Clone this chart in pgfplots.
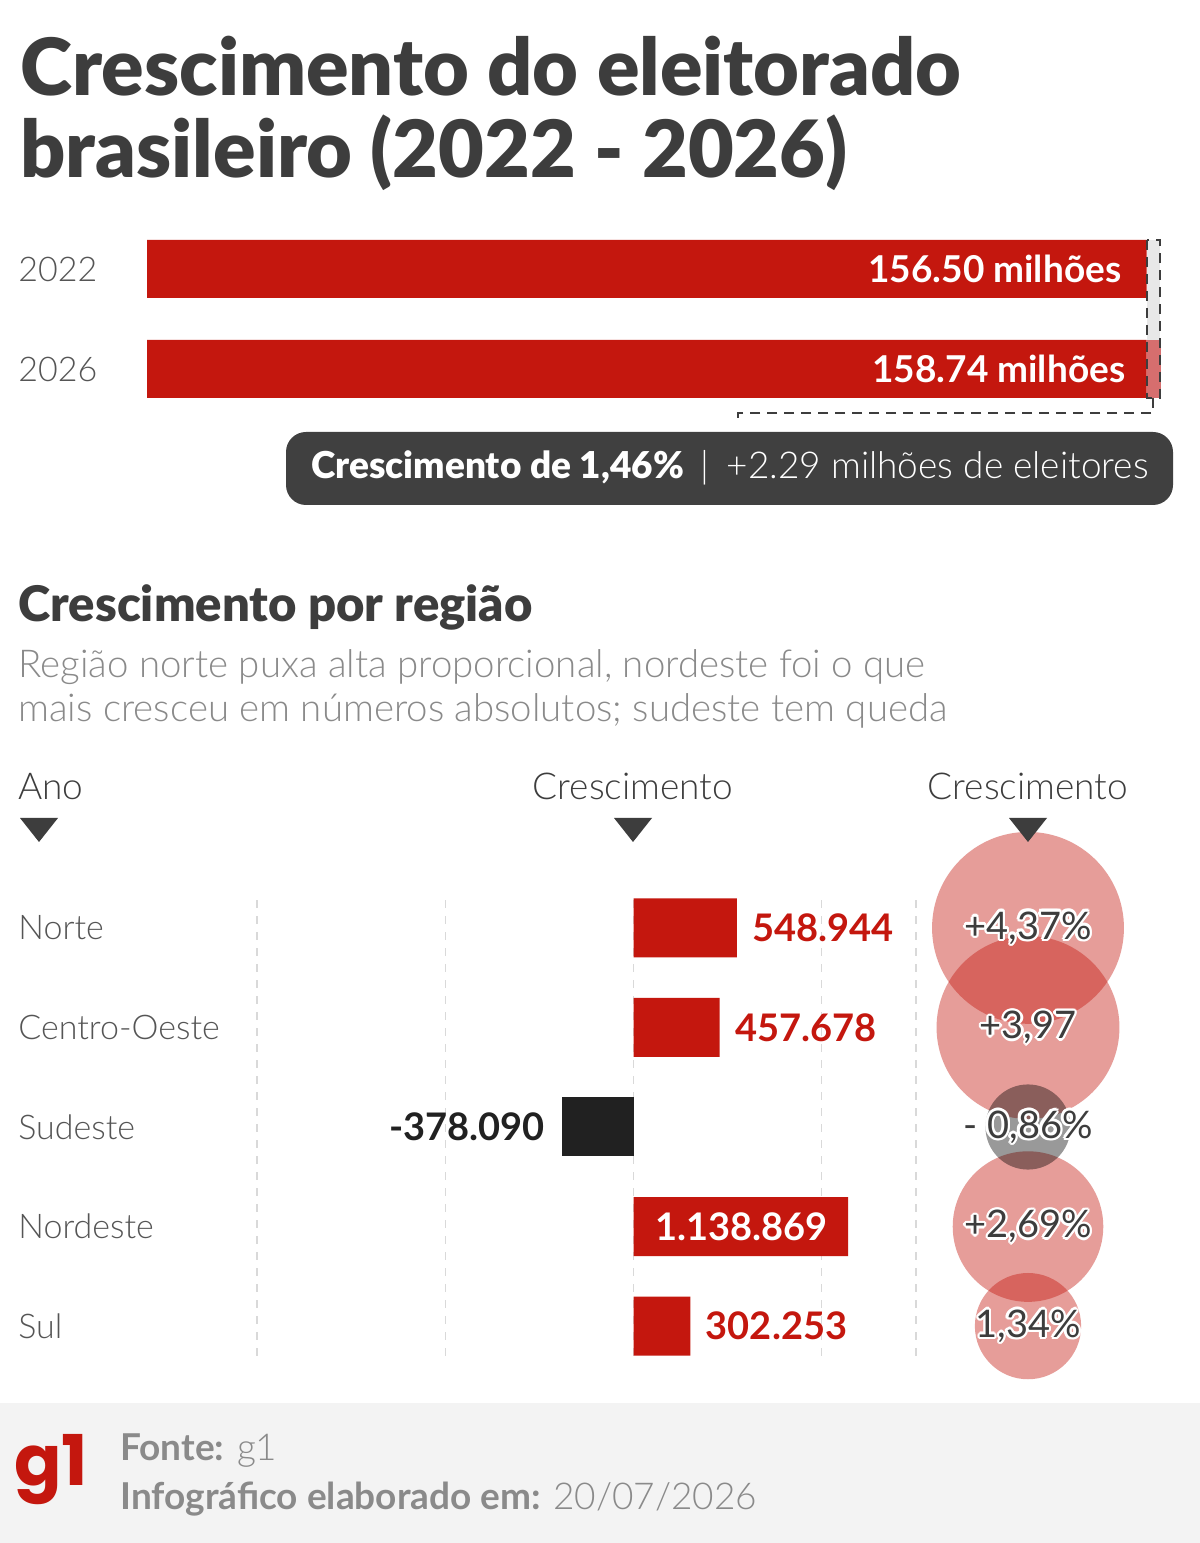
\documentclass[border=0pt]{standalone}
\usepackage{pgfplots}
\pgfplotsset{compat=1.18}
\usepackage{fontspec}
\setmainfont{Lato}
\newfontfamily\heavy{Lato Black}
\newfontfamily\light{Lato Light}
\newfontfamily\logo{Poppins}
\definecolor{gred}{RGB}{196,23,14}
\definecolor{dark}{RGB}{61,61,61}
\definecolor{txtgray}{RGB}{85,85,85}
\definecolor{subgray}{RGB}{138,138,138}
\definecolor{boxgray}{RGB}{64,64,64}
\definecolor{foot}{RGB}{243,243,243}
\definecolor{tailred}{RGB}{214,110,110}
\definecolor{graytail}{RGB}{232,232,232}
\newcommand\halo[2]{%
  \foreach \a in {0,30,...,330}{\node[inner sep=0,text=white,font=\fontsize{19}{22}\selectfont,shift={(\a:1.2pt)}] at (#1) {#2};}
  \node[inner sep=0,text=dark,font=\fontsize{19}{22}\selectfont] at (#1) {#2};}
\begin{document}
\begin{tikzpicture}[x=0.5pt,y=0.5pt]
\fill[white] (0,0) rectangle (1200,1543);
\fill[foot] (0,0) rectangle (1200,140);
% title
\node[anchor=base west,inner sep=0,text=dark,font=\heavy\fontsize{39.5}{42}\selectfont] at (20,1447) {Crescimento do eleitorado};
\node[anchor=base west,inner sep=0,text=dark,font=\heavy\fontsize{39.5}{42}\selectfont] at (20,1365) {brasileiro (2022 - 2026)};
% top bars
\fill[graytail] (1147,1303) rectangle (1160,1203);
\begin{axis}[at={(73.5pt,562pt)},anchor=south west,scale only axis,width=507pt,height=100pt,
  xmin=0,xmax=158.74,ymin=-0.5,ymax=1.5,xbar stacked,bar width=29pt,
  axis line style={draw=none},major tick length=0pt,xtick=\empty,
  ytick={0,1},yticklabels={2026,2022},
  yticklabel style={anchor=west,inner sep=0pt,xshift=-64.5pt,text=txtgray,font=\light\fontsize{17}{20}\selectfont},
  clip=false]
\addplot[fill=gred,draw=none] coordinates {(156.50,1) (156.50,0)};
\addplot[fill=tailred,draw=none] coordinates {(0,1) (2.24,0)};
\coordinate (v22) at (axis cs:156.50,1);
\coordinate (v26) at (axis cs:156.50,0);
\end{axis}
\node[anchor=east,text=white,inner sep=0,font=\bfseries\fontsize{18.5}{20}\selectfont,xshift=-12.5pt] at (v22) {156.50 milhões};
\node[anchor=east,text=white,inner sep=0,font=\bfseries\fontsize{18.5}{20}\selectfont,xshift=-10.5pt] at (v26) {158.74 milhões};
\draw[dark,line width=1pt,dash pattern=on 5pt off 3.5pt] (1147,1303) rectangle (1160,1145);
\draw[dark,line width=1pt,dash pattern=on 5pt off 3.5pt] (1153,1145) -- (1153,1130) -- (738,1130) -- (738,1123);
% dark box
\fill[boxgray,rounded corners=10pt] (286,1111) rectangle (1173,1038);
\node[anchor=center,inner sep=0,text=white,font=\fontsize{18.5}{20}\selectfont] at (730,1075) {\heavy Crescimento de 1,46\%\ \ {\light|}\ \ \light +2.29 milhões de eleitores};
% section 2
\node[anchor=base west,inner sep=0,text=dark,font=\heavy\fontsize{24.5}{27}\selectfont] at (18,921) {Crescimento por região};
\node[anchor=base west,inner sep=0,text=subgray,font=\light\fontsize{19.2}{22}\selectfont] at (18,865) {Região norte puxa alta proporcional, nordeste foi o que};
\node[anchor=base west,inner sep=0,text=subgray,font=\light\fontsize{19.2}{22}\selectfont] at (18,821) {mais cresceu em números absolutos; sudeste tem queda};
\node[anchor=base west,inner sep=0,text=dark,font=\light\fontsize{18.5}{20}\selectfont] at (18,743) {Ano};
\node[anchor=base,inner sep=0,text=dark,font=\light\fontsize{18.5}{20}\selectfont] at (633,743) {Crescimento};
\node[anchor=base,inner sep=0,text=dark,font=\light\fontsize{18.5}{20}\selectfont] at (1028,743) {Crescimento};
% bar chart
\begin{axis}[at={(128.5pt,93.5pt)},anchor=south west,scale only axis,width=329.5pt,height=229pt,
  xmin=-2000000,xmax=1500000,ymin=-0.3,ymax=4.3,scaled x ticks=false,
  axis line style={draw=none},major tick length=0pt,
  xtick={-2000000,-1000000,0,1000000,1500000},xticklabels={},
  xmajorgrids,grid style={dash pattern=on 4pt off 4pt,line width=0.6pt,black!15},
  ytick={0,1,2,3,4},yticklabels={Sul,Nordeste,Sudeste,Centro-Oeste,Norte},
  yticklabel style={anchor=west,inner sep=0pt,xshift=-119.5pt,text=txtgray,font=\light\fontsize{17}{20}\selectfont},
  clip=false]
\addplot[xbar,bar shift=0pt,bar width=29.5pt,fill=gred,draw=none] coordinates {(548944,4) (457678,3) (1138869,1) (302253,0)};
\addplot[xbar,bar shift=0pt,bar width=29.5pt,fill=black!87,draw=none] coordinates {(-378090,2)};
\node[anchor=west,inner sep=0,text=gred,font=\bfseries\fontsize{19}{22}\selectfont] at (axis cs:548944,4) [xshift=7.5pt] {548.944};
\node[anchor=west,inner sep=0,text=gred,font=\bfseries\fontsize{19}{22}\selectfont] at (axis cs:457678,3) [xshift=7.5pt] {457.678};
\node[anchor=east,inner sep=0,text=black!87,font=\bfseries\fontsize{19}{22}\selectfont] at (axis cs:-378090,2) [xshift=-8.5pt] {-378.090};
\node[anchor=east,inner sep=0,text=white,font=\bfseries\fontsize{19}{22}\selectfont] at (axis cs:1138869,1) [xshift=-10pt] {1.138.869};
\node[anchor=west,inner sep=0,text=gred,font=\bfseries\fontsize{19}{22}\selectfont] at (axis cs:302253,0) [xshift=7.5pt] {302.253};
\end{axis}
% bubbles
\begin{axis}[at={(464pt,93.5pt)},anchor=south west,scale only axis,width=100pt,height=229pt,
  xmin=0,xmax=1,ymin=-0.3,ymax=4.3,hide axis,clip=false]
\addplot[scatter,only marks,mark=*,mark options={draw opacity=0},
  visualization depends on={22.95*sqrt(abs(\thisrow{pct}))\as\rad},
  scatter/use mapped color={draw=none,draw opacity=0,fill=gred,fill opacity=0.42},
  scatter/@pre marker code/.append style={/tikz/mark size=\rad}]
  table[x=x,y=y]{
x y pct
0.5 4 4.37
0.5 3 3.97
0.5 1 2.69
0.5 0 1.34
};
\addplot[scatter,only marks,mark=*,mark options={draw opacity=0},
  visualization depends on={22.95*sqrt(abs(\thisrow{pct}))\as\rad},
  scatter/use mapped color={draw=none,draw opacity=0,fill=black,fill opacity=0.4},
  scatter/@pre marker code/.append style={/tikz/mark size=\rad}]
  table[x=x,y=y]{
x y pct
0.5 2 -0.86
};
\coordinate (b4) at (axis cs:0.5,4);
\coordinate (b3) at (axis cs:0.5,3);
\coordinate (b2) at (axis cs:0.5,2);
\coordinate (b1) at (axis cs:0.5,1);
\coordinate (b0) at (axis cs:0.5,0);
\end{axis}
\halo{b4}{+4,37\%}
\halo{b3}{+3,97}
\halo{b2}{- 0,86\%}
\halo{b1}{+2,69\%}
\halo{b0}{1,34\%}
% triangles
\fill[dark] (20,725) -- (58,725) -- (39,701) -- cycle;
\fill[dark] (614,725) -- (652,725) -- (633,701) -- cycle;
\fill[dark] (1009,725) -- (1047,725) -- (1028,701) -- cycle;
% footer
\node[anchor=base west,inner sep=0,text=gred,font=\logo\bfseries\fontsize{35}{38}\selectfont] at (14,57) {g1};
\node[anchor=base west,inner sep=0,text=subgray,font=\fontsize{18.5}{20}\selectfont] at (120,83) {\textbf{Fonte:} {\light g1}};
\node[anchor=base west,inner sep=0,text=subgray,font=\fontsize{18.5}{20}\selectfont] at (120,33) {\textbf{Infográfico elaborado em:} {\light 20/07/2026}};
\end{tikzpicture}
\end{document}
